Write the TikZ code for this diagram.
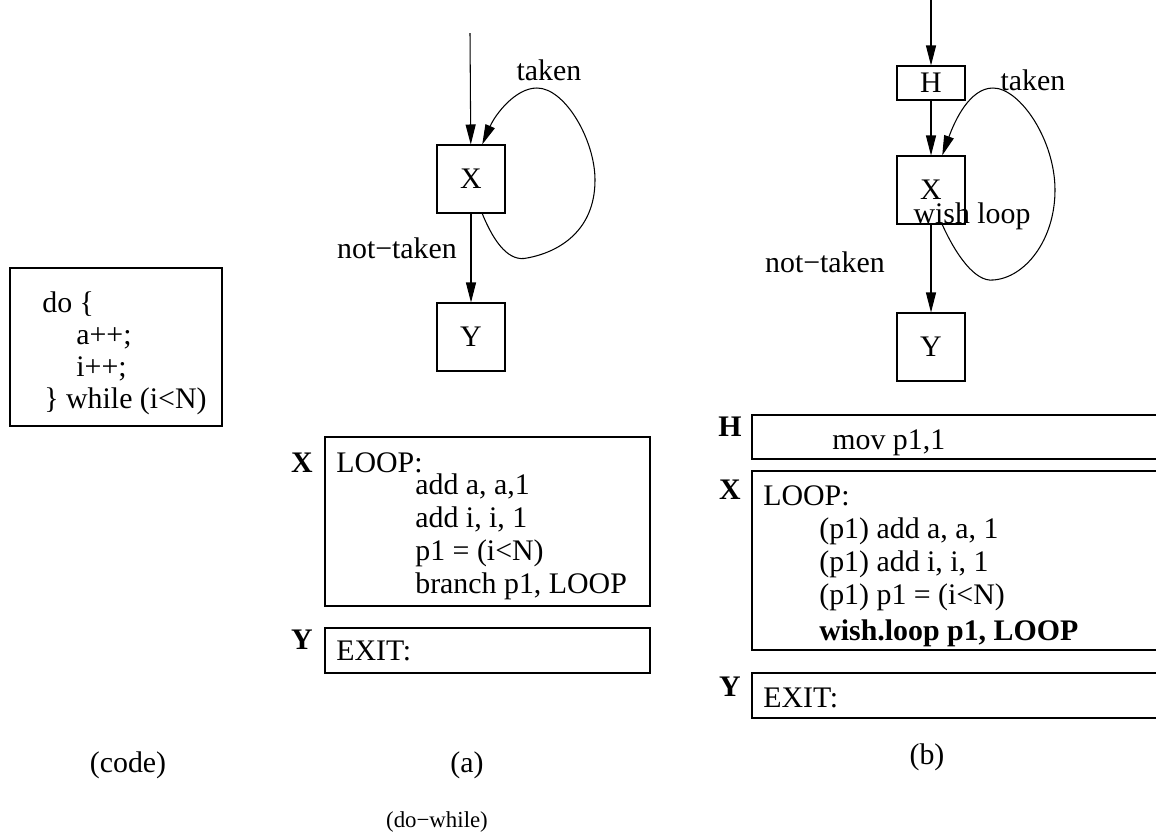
\documentclass[tikz,border=0pt]{standalone}
\usepackage{fontspec}
\setmainfont{Liberation Serif}
\usetikzlibrary{arrows.meta}
\tikzstyle{blk}=[draw, line width=0.6pt, minimum width=1.36cm, minimum height=1.36cm, inner sep=0]
\tikzstyle{hblk}=[blk, minimum height=0.68cm]
\tikzstyle{txt}=[anchor=base west, inner sep=0]
\tikzstyle{tag}=[font=\fontsize{17}{20}\selectfont\bfseries, inner sep=0]
\tikzstyle{flow}=[line width=0.6pt, -{Triangle[length=4mm,width=2mm]}]
\tikzstyle{frame}=[line width=0.6pt]

\begin{document}
\begin{tikzpicture}[x=0.02cm, y=-0.02cm, font=\fontsize{17}{20}\selectfont]
\clip (0,0) rectangle (1156,836);
% source code
\draw[frame] (10,268) rectangle (222,426);
\node at (42,312)[txt](c1){do \{};
\node at (76,344)[txt](c2){a++;};
\node at (76,376)[txt](c3){i++;};
\node at (44,408)[txt](c4){\} while (i<N)};
\node at (128,765)(capc){(code)};

% (a) graph
\coordinate (ina) at (470,33);
\node at (471,179)[blk](xa){X};
\node at (471,337)[blk](ya){Y};
\draw[flow] (ina)--(xa);
\draw[flow] (xa)--(ya);
\draw[flow] (xa.-72) .. controls (495,245) and (510,262) .. (527,258)
  .. controls (560,252) and (595,230) .. (595,180)
  .. controls (595,140) and (565,88) .. (537,88)
  .. controls (515,88) and (495,115) .. (xa.72);
\node at (549,70)(tka){taken};
\node at (397,248)(nta){not−taken};

% (a) listing
\draw[frame] (325,437) rectangle (650,606);
\draw[frame] (325,628) rectangle (650,673);
\node at (302,463)[tag](lxa){X};
\node at (302,640)[tag](lya){Y};
\node at (336,472)[txt](a0){LOOP:};
\node at (415,494)[txt](a1){add a, a,1};
\node at (415,527)[txt](a2){add i, i, 1};
\node at (415,560)[txt](a3){p1 = (i<N)};
\node at (415,593)[txt](a4){branch p1, LOOP};
\node at (336,660)[txt](a5){EXIT:};
\node at (467,765)(capa){(a)};

% (b) graph
\coordinate (inb) at (931,0);
\node at (931,83)[hblk](hb){H};
\node at (931,190)[blk](xb){X};
\node at (931,347)[blk](yb){Y};
\draw[flow] (inb)--(hb);
\draw[flow] (hb)--(xb);
\draw[flow] (xb)--(yb);
\draw[flow] (xb.-72) .. controls (956,255) and (975,282) .. (993,280)
  .. controls (1025,278) and (1055,240) .. (1055,190)
  .. controls (1055,140) and (1020,88) .. (993,88)
  .. controls (970,88) and (955,120) .. (xb.72);
\node at (1033,80)(tkb){taken};
\node at (972,216)(wl){wish loop};
\node at (825,262)(ntb){not−taken};

% (b) listing
\draw[frame] (752,415) rectangle (1170,459);
\draw[frame] (752,471) rectangle (1170,650);
\draw[frame] (752,673) rectangle (1170,718);
\node at (730,427)[tag](lhb){H};
\node at (730,490)[tag](lxb){X};
\node at (730,687)[tag](lyb){Y};
\node at (832,449)[txt](b0){mov p1,1};
\node at (763,505)[txt](b1){LOOP:};
\node at (819,538)[txt](b2){(p1) add a, a, 1};
\node at (819,571)[txt](b3){(p1) add i, i, 1};
\node at (819,604)[txt](b4){(p1) p1 = (i<N)};
\node at (819,640)[txt](b5){\bfseries wish.loop p1, LOOP};
\node at (763,707)[txt](b6){EXIT:};
\node at (927,757)(capb){(b)};

\node at (437,822)[font=\fontsize{13}{15}\selectfont](capd){(do−while)};
\end{tikzpicture}
\end{document}
